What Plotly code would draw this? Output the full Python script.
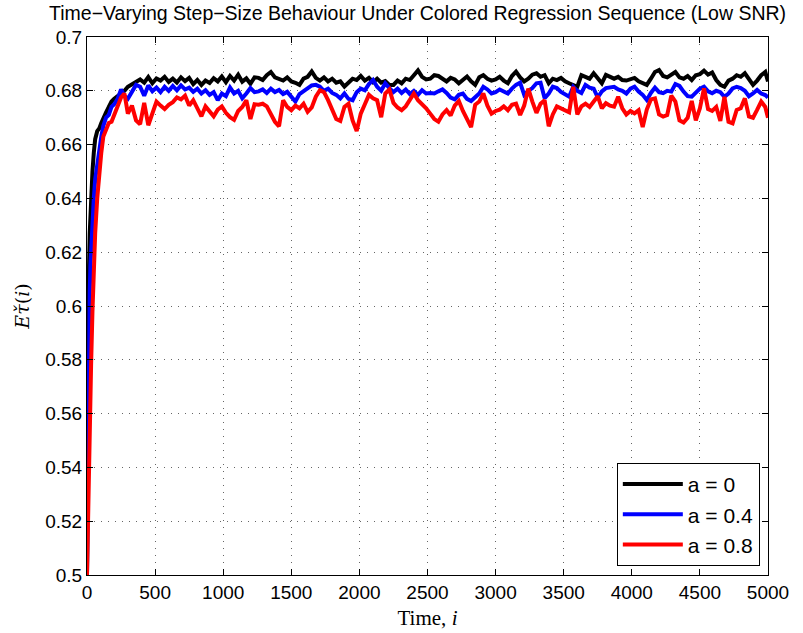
import plotly.graph_objects as go

# ---------------- data ----------------
t_early = [0, 5, 10, 15, 20, 25, 30, 40, 50, 60, 75, 90, 105, 120, 140, 160, 180, 200,
           225, 250, 275, 300, 330, 360]
t_steady = list(range(390, 4981, 30)) + [5000]
time = t_early + t_steady

black_early = [0.500, 0.560, 0.595, 0.615, 0.627, 0.635, 0.641, 0.650, 0.657, 0.662, 0.665, 0.666,
               0.668, 0.670, 0.672, 0.674, 0.676, 0.677, 0.678, 0.679, 0.680, 0.6815, 0.6825, 0.6835]
black_a = [0.6842, 0.6830, 0.6851, 0.6828, 0.6846, 0.6838, 0.6852, 0.6833, 0.6845, 0.6831,
           0.6850, 0.6836, 0.6848, 0.6825, 0.6840, 0.6822, 0.6838, 0.6829, 0.6847, 0.6835,
           0.6853, 0.6832, 0.6855, 0.6838, 0.6860, 0.6834, 0.6846, 0.6826, 0.6850]
black_b = [0.6848, 0.6840, 0.6858, 0.6870, 0.6850, 0.6845, 0.6838, 0.6850, 0.6835, 0.6830,
           0.6822, 0.6845, 0.6852, 0.6872, 0.6848, 0.6838, 0.6850, 0.6835, 0.6845, 0.6830,
           0.6835, 0.6816, 0.6832, 0.6845, 0.6840, 0.6855, 0.6838, 0.6848, 0.6832, 0.6845,
           0.6830, 0.6836, 0.6822, 0.6822, 0.6838, 0.6828, 0.6845, 0.6840, 0.6858, 0.6876,
           0.6852, 0.6842]
black_c = [0.6845, 0.6858, 0.6855, 0.6845, 0.6835, 0.6848, 0.6842, 0.6828, 0.6840, 0.6853,
           0.6835, 0.6822, 0.6850, 0.6858, 0.6845, 0.6838, 0.6842, 0.6852, 0.6838, 0.6828,
           0.6855, 0.6871, 0.6850, 0.6835, 0.6845, 0.6860, 0.6865, 0.6852, 0.6858, 0.6828,
           0.6845, 0.6840, 0.6848, 0.6835, 0.6828, 0.6820, 0.6815, 0.6858, 0.6850, 0.6845,
           0.6865]
black_d = [0.6846, 0.6828, 0.6859, 0.6850, 0.6845, 0.6852, 0.6840, 0.6838, 0.6845, 0.6848,
           0.6835, 0.6830, 0.6822, 0.6845, 0.6870, 0.6877, 0.6855, 0.6850, 0.6862, 0.6870,
           0.6850, 0.6845, 0.6855, 0.6840, 0.6858, 0.6862, 0.6875, 0.6860, 0.6868, 0.6840,
           0.6822, 0.6815, 0.6838, 0.6845, 0.6858, 0.6852, 0.6865, 0.6840, 0.6822, 0.6838,
           0.6858, 0.6870, 0.6835]

blue_early = [0.500, 0.540, 0.570, 0.592, 0.605, 0.615, 0.622, 0.632, 0.640, 0.647, 0.653, 0.658,
              0.663, 0.667, 0.670, 0.671, 0.674, 0.675, 0.677, 0.6805, 0.678, 0.677, 0.680, 0.6822]
blue_a = [0.6815, 0.6782, 0.6820, 0.6798, 0.6812, 0.6795, 0.6815, 0.6800, 0.6818, 0.6802,
          0.6820, 0.6805, 0.6812, 0.6796, 0.6808, 0.6790, 0.6802, 0.6785, 0.6795, 0.6765,
          0.6790, 0.6780, 0.6812, 0.6790, 0.6800, 0.6772, 0.6790, 0.6810, 0.6795]
blue_b = [0.6798, 0.6805, 0.6792, 0.6808, 0.6795, 0.6803, 0.6788, 0.6796, 0.6778, 0.6760,
          0.6788, 0.6798, 0.6808, 0.6820, 0.6822, 0.6815, 0.6800, 0.6808, 0.6792, 0.6785,
          0.6772, 0.6790, 0.6770, 0.6765, 0.6795, 0.6808, 0.6802, 0.6825, 0.6840, 0.6815,
          0.6800, 0.6828, 0.6810, 0.6795, 0.6808, 0.6792, 0.6805, 0.6788, 0.6800, 0.6785,
          0.6802, 0.6790]
blue_c = [0.6792, 0.6790, 0.6798, 0.6805, 0.6792, 0.6775, 0.6768, 0.6785, 0.6790, 0.6770,
          0.6762, 0.6778, 0.6790, 0.6815, 0.6805, 0.6790, 0.6795, 0.6805, 0.6798, 0.6790,
          0.6808, 0.6822, 0.6830, 0.6785, 0.6800, 0.6810, 0.6828, 0.6830, 0.6772, 0.6790,
          0.6815, 0.6810, 0.6796, 0.6785, 0.6778, 0.6815, 0.6800, 0.6792, 0.6822, 0.6812,
          0.6808]
blue_d = [0.6775, 0.6798, 0.6810, 0.6812, 0.6815, 0.6805, 0.6800, 0.6790, 0.6808, 0.6815,
          0.6797, 0.6785, 0.6766, 0.6792, 0.6812, 0.6795, 0.6791, 0.6800, 0.6797, 0.6825,
          0.6818, 0.6797, 0.6780, 0.6778, 0.6795, 0.6808, 0.6815, 0.6798, 0.6791, 0.6800,
          0.6795, 0.6778, 0.6790, 0.6809, 0.6815, 0.6810, 0.6800, 0.6780, 0.6790, 0.6803,
          0.6790, 0.6784, 0.6775]

red_early = [0.500, 0.515, 0.530, 0.545, 0.555, 0.565, 0.578, 0.598, 0.615, 0.627, 0.640, 0.650,
             0.657, 0.663, 0.666, 0.668, 0.6685, 0.671, 0.6735, 0.6775, 0.679, 0.6715, 0.6745, 0.6690]
red_a = [0.6676, 0.6755, 0.6672, 0.6715, 0.6760, 0.6745, 0.6732, 0.6748, 0.6758, 0.6775,
         0.6768, 0.6782, 0.6745, 0.6765, 0.6738, 0.6705, 0.6742, 0.6725, 0.6705, 0.6730,
         0.6742, 0.6718, 0.6702, 0.6692, 0.6725, 0.6740, 0.6765, 0.6695, 0.6750]
red_b = [0.6748, 0.6752, 0.6742, 0.6715, 0.6685, 0.6668, 0.6765, 0.6740, 0.6728, 0.6745,
         0.6735, 0.6752, 0.6722, 0.6738, 0.6778, 0.6802, 0.6795, 0.6765, 0.6725, 0.6695,
         0.6688, 0.6740, 0.6752, 0.6690, 0.6650, 0.6715, 0.6750, 0.6785, 0.6772, 0.6765,
         0.6702, 0.6790, 0.6805, 0.6755, 0.6738, 0.6728, 0.6742, 0.6768, 0.6790, 0.6765,
         0.6752, 0.6735]
red_c = [0.6715, 0.6695, 0.6685, 0.6712, 0.6728, 0.6708, 0.6745, 0.6762, 0.6725, 0.6698,
         0.6665, 0.6748, 0.6760, 0.6790, 0.6745, 0.6715, 0.6725, 0.6730, 0.6742, 0.6728,
         0.6748, 0.6752, 0.6710, 0.6745, 0.6808, 0.6760, 0.6718, 0.6752, 0.6765, 0.6668,
         0.6712, 0.6742, 0.6735, 0.6728, 0.6720, 0.6815, 0.6712, 0.6742, 0.6752, 0.6740,
         0.6760]
red_d = [0.6780, 0.6735, 0.6754, 0.6745, 0.6741, 0.6778, 0.6735, 0.6712, 0.6725, 0.6716,
         0.6728, 0.6665, 0.6730, 0.6768, 0.6772, 0.6712, 0.6704, 0.6710, 0.6782, 0.6760,
         0.6690, 0.6682, 0.6700, 0.6762, 0.6690, 0.6735, 0.6809, 0.6732, 0.6725, 0.6740,
         0.6688, 0.6778, 0.6685, 0.6679, 0.6729, 0.6735, 0.6772, 0.6705, 0.6700, 0.6729,
         0.6760, 0.6740, 0.6700]

series_names = ["a = 0", "a = 0.4", "a = 0.8"]
series_colors = ["#000000", "#0000ff", "#ff0000"]

black = black_early + black_a + black_b + black_c + black_d
blue = blue_early + blue_a + blue_b + blue_c + blue_d
red = red_early + red_a + red_b + red_c + red_d
for s in (black, blue, red):
    assert len(s) == len(time), (len(s), len(time))

x_ticks = [0, 500, 1000, 1500, 2000, 2500, 3000, 3500, 4000, 4500, 5000]
y_ticks = [0.5, 0.52, 0.54, 0.56, 0.58, 0.6, 0.62, 0.64, 0.66, 0.68, 0.7]
y_tick_text = ["0.5", "0.52", "0.54", "0.56", "0.58", "0.6", "0.62", "0.64", "0.66", "0.68", "0.7"]

# ---------------- figure ----------------
fig = go.Figure()
for ys, name, col in zip((black, blue, red), series_names, series_colors):
    fig.add_trace(go.Scatter(x=time, y=ys, mode="lines", name=name,
                             line=dict(color=col, width=4)))

axis_common = dict(
    showline=True, linecolor="black", linewidth=1, mirror="ticks",
    ticks="inside", ticklen=6, tickcolor="black", tickwidth=1,
    showgrid=True, gridcolor="rgba(0,0,0,0.6)", gridwidth=1, griddash="1px,6px",
    zeroline=False, automargin=False,
    tickfont=dict(family="Liberation Sans, Arial, sans-serif", size=19, color="black"),
)

fig.update_layout(
    width=803, height=633,
    margin=dict(l=87, r=35, t=37, b=58),
    paper_bgcolor="white", plot_bgcolor="white",
    title=dict(text="Time\u2212Varying Step\u2212Size Behaviour Under Colored Regression Sequence (Low SNR)",
               x=0.52, xanchor="center", y=0.99, yanchor="top",
               font=dict(family="Liberation Sans, Arial, sans-serif", size=19.5, color="black")),
    xaxis=dict(range=[0, 5000], tickvals=x_ticks,
               title=dict(text="Time, <i>i</i>", standoff=8,
                          font=dict(family="Liberation Serif, Times New Roman, serif", size=21, color="black")),
               **axis_common),
    yaxis=dict(range=[0.5, 0.7], tickvals=y_ticks, ticktext=y_tick_text,
               title=dict(text="<i>E</i><i>\u03c4\u030c</i>(<i>i</i>)", standoff=10,
                          font=dict(family="DejaVu Serif, Liberation Serif, serif", size=19, color="black")),
               **axis_common),
    legend=dict(x=0.988, y=0.017, xanchor="right", yanchor="bottom",
                bgcolor="white", bordercolor="black", borderwidth=1,
                font=dict(family="Liberation Sans, Arial, sans-serif", size=21, color="black"),
                tracegroupgap=0, itemwidth=60),
    showlegend=True,
)

fig.write_html("out.html")
